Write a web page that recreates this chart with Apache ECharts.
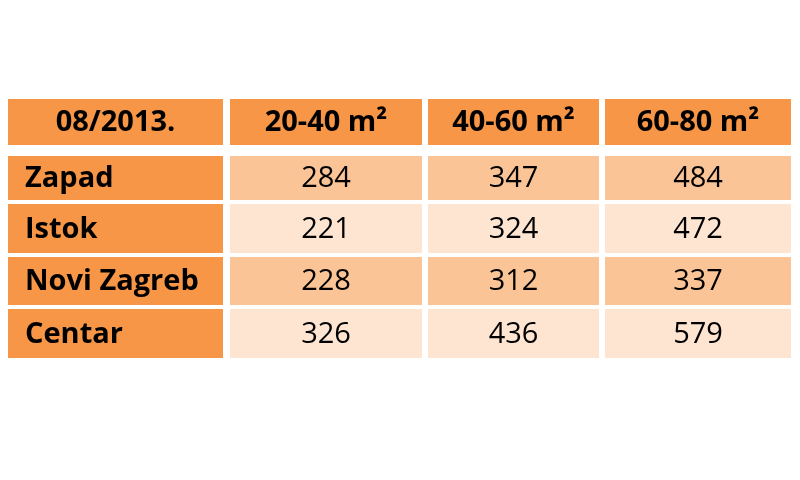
<!DOCTYPE html><html><head><meta charset="utf-8"><script src="https://cdn.jsdelivr.net/npm/echarts@6/dist/echarts.min.js"></script>
<style>html,body{margin:0;background:#fff}#c{width:800px;height:480px}</style></head><body><div id="c"></div><script>
const corner = '08/2013.';
const sizes = ['20-40 m²','40-60 m²','60-80 m²'];
const districts = ['Zapad','Istok','Novi Zagreb','Centar'];
const v2040 = [284,221,228,326];
const v4060 = [347,324,312,436];
const v6080 = [484,472,337,579];
// layout only
const colEdges = [[8,223],[230,422],[428,599],[605,791]];
const rowEdges = [[99,145],[156,200],[204,253],[257,305],[309,358]];
const cols = [v2040,v4060,v6080];
const data = [];
data.push([0,0,corner,'h']);
sizes.forEach((s,i)=>data.push([i+1,0,s,'h']));
districts.forEach((d,r)=>{
  data.push([0,r+1,d,'l']);
  cols.forEach((c,i)=>data.push([i+1,r+1,String(c[r]),r%2===0?'a':'b']));
});
const fills={h:'#F79646',l:'#F79646',a:'#FAC497',b:'#FDE5D2'};
const chart = echarts.init(document.getElementById('c'));
chart.setOption({
  animation:false,
  grid:{left:0,top:0,width:800,height:480},
  xAxis:{type:'value',min:0,max:800,show:false},
  yAxis:{type:'value',min:0,max:480,inverse:true,show:false},
  series:[{type:'custom',data:data,renderItem:(p,api)=>{
    const c=api.value(0),r=api.value(1),kind=data[p.dataIndex][3],txt=data[p.dataIndex][2];
    const p0=api.coord([colEdges[c][0],rowEdges[r][0]]),p1=api.coord([colEdges[c][1],rowEdges[r][1]]);
    const w=p1[0]-p0[0],h=p1[1]-p0[1];
    const left=kind==='l';
    return {type:'group',children:[
      {type:'rect',shape:{x:p0[0],y:p0[1],width:w,height:h},style:{fill:fills[kind]}},
      {type:'text',style:{text:txt,x:left?p0[0]+17:p0[0]+w/2,y:p0[1]+h/2+1,align:left?'left':'center',verticalAlign:'middle',
        font:((kind==='h'||kind==='l')?'bold ':'')+'29px "Open Sans", sans-serif',fill:'#000'}}
    ]};
  }}]
});
</script></body></html>
